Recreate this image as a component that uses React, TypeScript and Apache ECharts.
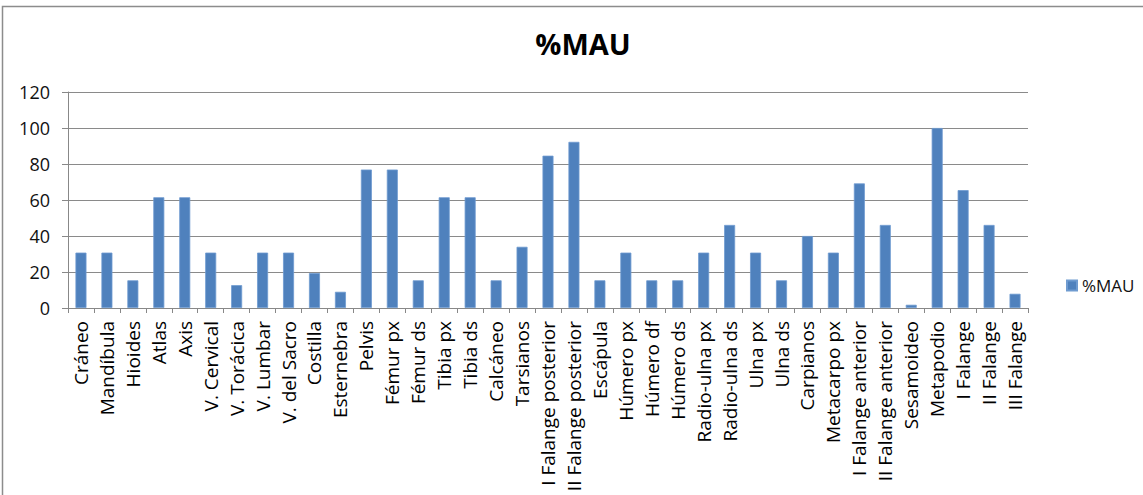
import React, { useEffect, useRef } from "react";
import * as echarts from "echarts";

const categories = [
  "Cráneo", "Mandíbula", "Hioides", "Atlas", "Axis", "V. Cervical", "V. Torácica",
  "V. Lumbar", "V. del Sacro", "Costilla", "Esternebra", "Pelvis", "Fémur px",
  "Fémur ds", "Tibia px", "Tibia ds", "Calcáneo", "Tarsianos", "I Falange posterior",
  "II Falange posterior", "Escápula", "Húmero px", "Húmero df", "Húmero ds",
  "Radio-ulna px", "Radio-ulna ds", "Ulna px", "Ulna ds", "Carpianos", "Metacarpo px",
  "I Falange anterior", "II Falange anterior", "Sesamoideo", "Metapodio", "I Falange",
  "II Falange", "III Falange",
];

const mauValues = [
  30.77, 30.77, 15.38, 61.54, 61.54, 30.77, 12.7,
  30.77, 30.77, 19.4, 9.0, 76.92, 76.92,
  15.38, 61.54, 61.54, 15.38, 34.0, 84.62,
  92.31, 15.38, 30.77, 15.38, 15.38,
  30.77, 46.15, 30.77, 15.38, 40.0, 30.77,
  69.23, 46.15, 1.8, 100, 65.5,
  46.15, 7.9,
];

const seriesName = "%MAU";
const titleText = "%MAU";
const yTicks = { min: 0, max: 120, interval: 20 };

export default function App() {
  const ref = useRef<HTMLDivElement>(null);
  useEffect(() => {
    document.body.style.margin = "0";
    const chart = echarts.init(ref.current!, null, { renderer: "svg" });
    const font = "'Open Sans', sans-serif";
    chart.setOption({
      animation: false,
      backgroundColor: "#ffffff",
      title: {
        text: titleText,
        left: 578,
        top: 24,
        textAlign: "center",
        textStyle: { fontFamily: font, fontWeight: "bold", fontSize: 29, color: "#000" },
      },
      legend: {
        data: [seriesName],
        left: 1061,
        top: 272,
        itemWidth: 10,
        itemHeight: 10,
        itemGap: 5,
        icon: "rect",
        textStyle: { fontFamily: font, fontSize: 17, color: "#111" },
      },
      grid: { left: 68, right: 115, top: 92, bottom: 187 },
      xAxis: {
        type: "category",
        data: categories,
        axisLine: { lineStyle: { color: "#888", width: 1 } },
        axisTick: { show: true, length: 5, alignWithLabel: false, lineStyle: { color: "#888" } },
        axisLabel: {
          rotate: 90,
          interval: 0,
          margin: 13,
          fontFamily: font,
          fontSize: 19,
          color: "#000",
        },
      },
      yAxis: {
        type: "value",
        min: yTicks.min,
        max: yTicks.max,
        interval: yTicks.interval,
        axisLine: { show: true, lineStyle: { color: "#888" } },
        axisTick: { show: true, length: 6, lineStyle: { color: "#888" } },
        splitLine: { lineStyle: { color: "#8a8a8a", width: 1 } },
        axisLabel: { fontFamily: font, fontSize: 18, color: "#111", margin: 18 },
      },
      graphic: [
        {
          type: "rect",
          shape: { x: 2.5, y: 6.5, width: 1160, height: 520 },
          style: { fill: "none", stroke: "#8c8c8c", lineWidth: 1.5 },
          silent: true,
        },
      ],
      series: [
        {
          name: seriesName,
          type: "bar",
          data: mauValues,
          barWidth: 11,
          itemStyle: { color: "#4F81BD", borderColor: "#6f9bd0", borderWidth: 0.8 },
        },
      ],
    });
    return () => chart.dispose();
  }, []);
  return <div ref={ref} style={{ width: 1143, height: 495 }} />;
}
